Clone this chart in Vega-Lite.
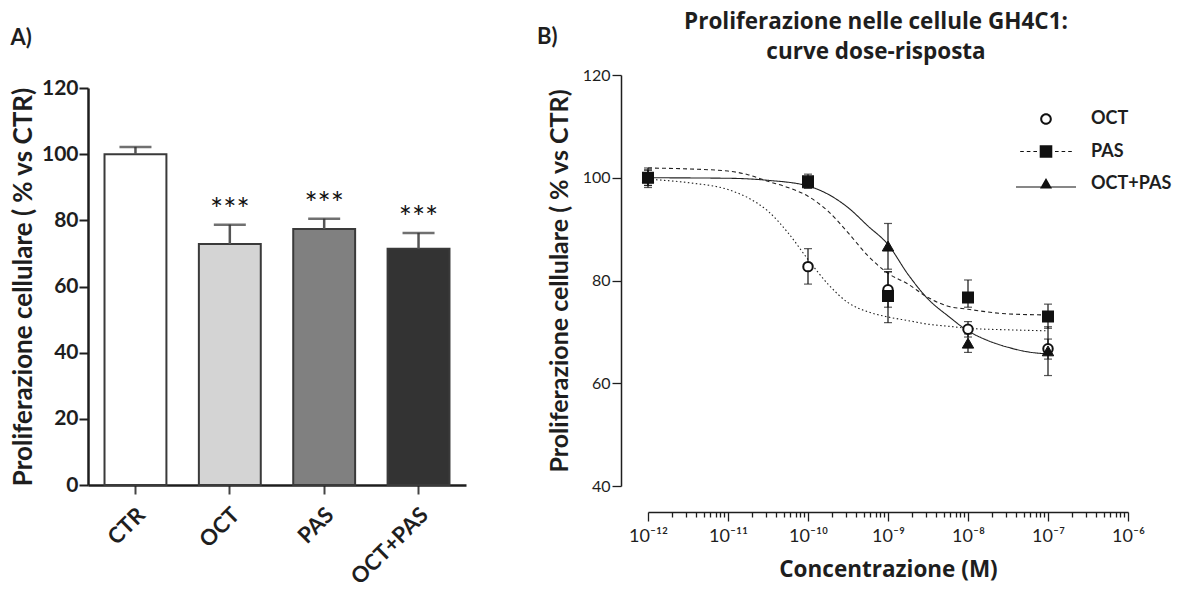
{
  "$schema": "https://vega.github.io/schema/vega-lite/v6.json",
  "padding": {"left": 10, "top": 10, "right": 0, "bottom": 0},
  "bounds": "flush",
  "spacing": 182,
  "resolve": {"scale": {"fill": "independent", "shape": "independent", "size": "independent", "strokeWidth": "independent", "strokeDash": "independent"}},
  "config": {
    "font": "Lato",
    "view": {"stroke": null},
    "axis": {"grid": false, "domainColor": "#1e1e1e", "tickColor": "#1e1e1e", "labelColor": "#1e1e1e", "titleColor": "#1e1e1e"},
    "title": {"color": "#1e1e1e"},
    "legend": {"labelColor": "#1e1e1e"}
  },
  "title": {"text": "B)", "anchor": "start", "frame": "group", "dx": 449, "offset": -38, "fontSize": 22, "fontWeight": "bold"},
  "datasets": {
    "bars": [
      {"group": "CTR", "mean": 100, "upper": 102.2, "sig": ""},
      {"group": "OCT", "mean": 72.85, "upper": 78.7, "sig": "***"},
      {"group": "PAS", "mean": 77.4, "upper": 80.5, "sig": "***"},
      {"group": "OCT+PAS", "mean": 71.4, "upper": 76.2, "sig": "***"}
    ],
    "points": [
      {"series": "OCT", "conc": 1e-12, "val": 100, "lo": 98.5, "hi": 101.5},
      {"series": "OCT", "conc": 1e-10, "val": 82.7, "lo": 79.3, "hi": 86.2},
      {"series": "OCT", "conc": 1e-9, "val": 78.2, "lo": 74.8, "hi": 81.7},
      {"series": "OCT", "conc": 1e-8, "val": 70.5, "lo": 69.0, "hi": 72.0},
      {"series": "OCT", "conc": 1e-7, "val": 66.7, "lo": 64.7, "hi": 68.6},
      {"series": "OCT+PAS", "conc": 1e-12, "val": 100, "lo": 98.5, "hi": 101.5},
      {"series": "OCT+PAS", "conc": 1e-10, "val": 99.0, "lo": 98.0, "hi": 100.0},
      {"series": "OCT+PAS", "conc": 1e-9, "val": 86.7, "lo": 82.2, "hi": 91.1},
      {"series": "OCT+PAS", "conc": 1e-8, "val": 67.8, "lo": 66.0, "hi": 69.6},
      {"series": "OCT+PAS", "conc": 1e-7, "val": 66.3, "lo": 61.5, "hi": 71.0},
      {"series": "PAS", "conc": 1e-12, "val": 100, "lo": 98.1, "hi": 101.9},
      {"series": "PAS", "conc": 1e-10, "val": 99.3, "lo": 98.0, "hi": 100.7},
      {"series": "PAS", "conc": 1e-9, "val": 77.0, "lo": 71.8, "hi": 81.7},
      {"series": "PAS", "conc": 1e-8, "val": 76.7, "lo": 74.8, "hi": 80.1},
      {"series": "PAS", "conc": 1e-7, "val": 73.0, "lo": 70.7, "hi": 75.4}
    ],
    "curves": [
      {"series": "OCT", "conc": 1e-12, "val": 99.7},
      {"series": "OCT", "conc": 3.35e-12, "val": 99.0},
      {"series": "OCT", "conc": 1e-11, "val": 97.7},
      {"series": "OCT", "conc": 1.778e-11, "val": 96.1},
      {"series": "OCT", "conc": 3.162e-11, "val": 93.5},
      {"series": "OCT", "conc": 5.623e-11, "val": 89.3},
      {"series": "OCT", "conc": 1e-10, "val": 84.1},
      {"series": "OCT", "conc": 1.778e-10, "val": 79.3},
      {"series": "OCT", "conc": 3.162e-10, "val": 75.7},
      {"series": "OCT", "conc": 5.623e-10, "val": 73.9},
      {"series": "OCT", "conc": 1e-9, "val": 72.9},
      {"series": "OCT", "conc": 1.778e-9, "val": 72.2},
      {"series": "OCT", "conc": 3.162e-9, "val": 71.5},
      {"series": "OCT", "conc": 5.623e-9, "val": 71.1},
      {"series": "OCT", "conc": 1e-8, "val": 70.7},
      {"series": "OCT", "conc": 3.162e-8, "val": 70.4},
      {"series": "OCT", "conc": 1e-7, "val": 70.2},
      {"series": "PAS", "conc": 1e-12, "val": 101.9},
      {"series": "PAS", "conc": 3.35e-12, "val": 101.7},
      {"series": "PAS", "conc": 1e-11, "val": 101.3},
      {"series": "PAS", "conc": 1.778e-11, "val": 100.6},
      {"series": "PAS", "conc": 3.162e-11, "val": 99.3},
      {"series": "PAS", "conc": 5.623e-11, "val": 98.1},
      {"series": "PAS", "conc": 1e-10, "val": 96.4},
      {"series": "PAS", "conc": 1.778e-10, "val": 93.5},
      {"series": "PAS", "conc": 3.162e-10, "val": 89.3},
      {"series": "PAS", "conc": 5.623e-10, "val": 84.8},
      {"series": "PAS", "conc": 1e-9, "val": 81.4},
      {"series": "PAS", "conc": 1.778e-9, "val": 79.3},
      {"series": "PAS", "conc": 3.162e-9, "val": 76.7},
      {"series": "PAS", "conc": 5.623e-9, "val": 75.0},
      {"series": "PAS", "conc": 1e-8, "val": 74.4},
      {"series": "PAS", "conc": 3.162e-8, "val": 73.5},
      {"series": "PAS", "conc": 1e-7, "val": 73.3},
      {"series": "OCT+PAS", "conc": 1e-12, "val": 100.0},
      {"series": "OCT+PAS", "conc": 1e-11, "val": 99.9},
      {"series": "OCT+PAS", "conc": 3.162e-11, "val": 99.5},
      {"series": "OCT+PAS", "conc": 1e-10, "val": 98.4},
      {"series": "OCT+PAS", "conc": 1.778e-10, "val": 96.8},
      {"series": "OCT+PAS", "conc": 3.162e-10, "val": 94.2},
      {"series": "OCT+PAS", "conc": 5.623e-10, "val": 90.6},
      {"series": "OCT+PAS", "conc": 1e-9, "val": 87.0},
      {"series": "OCT+PAS", "conc": 1.778e-9, "val": 81.2},
      {"series": "OCT+PAS", "conc": 3.162e-9, "val": 76.4},
      {"series": "OCT+PAS", "conc": 5.623e-9, "val": 73.1},
      {"series": "OCT+PAS", "conc": 1e-8, "val": 70.2},
      {"series": "OCT+PAS", "conc": 1.778e-8, "val": 68.3},
      {"series": "OCT+PAS", "conc": 3.162e-8, "val": 67.0},
      {"series": "OCT+PAS", "conc": 5.623e-8, "val": 66.1},
      {"series": "OCT+PAS", "conc": 1e-7, "val": 65.7}
    ]
  },
  "hconcat": [
    {
      "width": 378,
      "height": 410,
      "title": {"text": "A)", "anchor": "start", "frame": "bounds", "fontSize": 22, "fontWeight": "bold", "offset": 25},
      "data": {"name": "bars"},
      "layer": [
        {
          "mark": {"type": "bar", "stroke": "#3a3a3a", "strokeWidth": 2},
          "encoding": {
            "x": {"field": "group", "type": "nominal", "sort": null,
              "scale": {"paddingInner": 0.344, "paddingOuter": 0.175},
              "axis": {"title": null, "labelAngle": -45, "labelAlign": "right", "labelBaseline": "middle", "labelFontSize": 22, "labelFontWeight": "bold", "labelPadding": 17, "labelOffset": 6, "tickSize": 9, "tickWidth": 2, "tickColor": "#444", "domainWidth": 2.5}},
            "y": {"field": "mean", "type": "quantitative",
              "scale": {"domain": [0, 120], "range": [410, 13], "nice": false},
              "axis": {"values": [0, 20, 40, 60, 80, 100, 120], "title": "Proliferazione cellulare ( % vs CTR)", "titleFontSize": 26, "titleFontWeight": "bold", "titlePadding": 5, "labelFontSize": 21, "labelFontWeight": "bold", "labelPadding": 1, "tickSize": 9, "tickWidth": 2, "domainWidth": 2.5}},
            "fill": {"field": "group", "type": "nominal", "scale": {"domain": ["CTR", "OCT", "PAS", "OCT+PAS"], "range": ["#ffffff", "#d4d4d4", "#808080", "#333333"]}, "legend": null}
          }
        },
        {
          "mark": {"type": "rule", "stroke": "#555555", "strokeWidth": 2.5},
          "encoding": {
            "x": {"field": "group", "type": "nominal", "sort": null},
            "y": {"field": "mean", "type": "quantitative"},
            "y2": {"field": "upper"}
          }
        },
        {
          "mark": {"type": "tick", "orient": "horizontal", "size": 32, "thickness": 2.5, "color": "#333333"},
          "encoding": {
            "x": {"field": "group", "type": "nominal", "sort": null},
            "y": {"field": "upper", "type": "quantitative"}
          }
        },
        {
          "mark": {"type": "text", "fontSize": 31, "dy": -5, "baseline": "alphabetic", "color": "#111111"},
          "encoding": {
            "x": {"field": "group", "type": "nominal", "sort": null},
            "y": {"field": "upper", "type": "quantitative"},
            "text": {"field": "sig"}
          }
        }
      ]
    },
    {
      "width": 480,
      "height": 411,
      "title": {"text": ["Proliferazione nelle cellule GH4C1:", "curve dose-risposta"], "anchor": "middle", "frame": "group", "dx": -12, "font": "Open Sans", "fontSize": 22.5, "fontWeight": "bold", "lineHeight": 30, "offset": 4},
      "resolve": {"scale": {"shape": "independent"}},
      "layer": [
        {
          "data": {"name": "curves"},
          "mark": {"type": "line", "interpolate": "monotone", "color": "#222222", "strokeWidth": 1.1},
          "encoding": {
            "x": {"field": "conc", "type": "quantitative",
              "scale": {"type": "log", "domain": [1e-12, 1e-6], "nice": false},
              "axis": {"offset": 26,
                "values": [1e-12, 2e-12, 3e-12, 4e-12, 5e-12, 6e-12, 7e-12, 8e-12, 9e-12, 1e-11, 2e-11, 3e-11, 4e-11, 5e-11, 6e-11, 7e-11, 8e-11, 9e-11, 1e-10, 2e-10, 3e-10, 4e-10, 5e-10, 6e-10, 7e-10, 8e-10, 9e-10, 1e-9, 2e-9, 3e-9, 4e-9, 5e-9, 6e-9, 7e-9, 8e-9, 9e-9, 1e-8, 2e-8, 3e-8, 4e-8, 5e-8, 6e-8, 7e-8, 8e-8, 9e-8, 1e-7, 2e-7, 3e-7, 4e-7, 5e-7, 6e-7, 7e-7, 8e-7, 9e-7, 1e-6],
                "labelExpr": "abs(log(datum.value)/LN10 - round(log(datum.value)/LN10)) > 0.01 ? '' : round(log(datum.value)/LN10) == -12 ? '10⁻¹²' : round(log(datum.value)/LN10) == -11 ? '10⁻¹¹' : round(log(datum.value)/LN10) == -10 ? '10⁻¹⁰' : round(log(datum.value)/LN10) == -9 ? '10⁻⁹' : round(log(datum.value)/LN10) == -8 ? '10⁻⁸' : round(log(datum.value)/LN10) == -7 ? '10⁻⁷' : '10⁻⁶'",
                "labelFlush": false, "labelOverlap": false, "labelFontSize": 18, "labelPadding": 6,
                "tickSize": {"condition": {"test": "abs(log(datum.value)/LN10 - round(log(datum.value)/LN10)) < 0.01", "value": 9}, "value": 5},
                "tickWidth": 1.3, "domainWidth": 1.5,
                "title": "Concentrazione (M)", "titleFont": "Open Sans", "titleFontSize": 22.5, "titleFontWeight": "bold", "titlePadding": 13}},
            "y": {"field": "val", "type": "quantitative",
              "scale": {"domain": [40, 120], "nice": false, "zero": false},
              "axis": {"offset": 27, "values": [40, 60, 80, 100, 120], "tickSize": 9, "tickWidth": 1.3, "domainWidth": 1.5, "labelFontSize": 16, "labelPadding": 2,
                "title": "Proliferazione cellulare ( % vs CTR)", "titleFontSize": 25, "titleFontWeight": "bold", "titlePadding": 10}},
            "detail": {"field": "series"},
            "strokeDash": {"field": "series", "type": "nominal", "scale": {"domain": ["OCT", "PAS", "OCT+PAS"], "range": [[1.5, 2.5], [4, 3], [1, 0]]}, "legend": null}
          }
        },
        {
          "data": {"name": "points"},
          "mark": {"type": "rule", "color": "#111111", "strokeWidth": 1.2},
          "encoding": {
            "x": {"field": "conc", "type": "quantitative"},
            "y": {"field": "lo", "type": "quantitative"},
            "y2": {"field": "hi"}
          }
        },
        {
          "data": {"name": "points"},
          "mark": {"type": "tick", "orient": "horizontal", "size": 8, "thickness": 1.2, "color": "#111111"},
          "encoding": {
            "x": {"field": "conc", "type": "quantitative"},
            "y": {"field": "lo", "type": "quantitative"}
          }
        },
        {
          "data": {"name": "points"},
          "mark": {"type": "tick", "orient": "horizontal", "size": 8, "thickness": 1.2, "color": "#111111"},
          "encoding": {
            "x": {"field": "conc", "type": "quantitative"},
            "y": {"field": "hi", "type": "quantitative"}
          }
        },
        {
          "data": {"name": "points"},
          "mark": {"type": "point", "filled": true, "opacity": 1, "stroke": "#111111"},
          "encoding": {
            "x": {"field": "conc", "type": "quantitative"},
            "y": {"field": "val", "type": "quantitative"},
            "shape": {"field": "series", "type": "nominal", "scale": {"domain": ["OCT", "PAS", "OCT+PAS"], "range": ["circle", "square", "triangle-up"]}, "legend": null},
            "fill": {"field": "series", "type": "nominal", "scale": {"domain": ["OCT", "PAS", "OCT+PAS"], "range": ["#ffffff", "#111111", "#111111"]}, "legend": null},
            "size": {"field": "series", "type": "nominal", "scale": {"domain": ["OCT", "PAS", "OCT+PAS"], "range": [90, 130, 150]}, "legend": null},
            "strokeWidth": {"field": "series", "type": "nominal", "scale": {"domain": ["OCT", "PAS", "OCT+PAS"], "range": [2, 1, 1]}, "legend": null}
          }
        },
        {
          "data": {"name": "points"},
          "mark": {"type": "point", "size": 0, "opacity": 0, "filled": true, "color": "#111111", "stroke": "#111111", "strokeWidth": 1},
          "encoding": {
            "x": {"field": "conc", "type": "quantitative"},
            "y": {"field": "val", "type": "quantitative"},
            "shape": {"field": "series", "type": "nominal",
              "scale": {"domain": ["OCT", "PAS", "OCT+PAS"], "range": [
                "M0.97,0A0.97,0.97,0,1,1,-0.97,0A0.97,0.97,0,1,1,0.97,0ZM0.64,0A0.64,0.64,0,1,0,-0.64,0A0.64,0.64,0,1,0,0.64,0Z",
                "M-4.3,-0.09H-3.7V0.09H-4.3ZM-3.2,-0.09H-2.6V0.09H-3.2ZM-2.1,-0.09H-1.5V0.09H-2.1ZM1.5,-0.09H2.1V0.09H1.5ZM2.6,-0.09H3.2V0.09H2.6ZM3.7,-0.09H4.3V0.09H3.7ZM-1.05,-1.05H1.05V1.05H-1.05Z",
                "M-5,0.42H5V0.58H-5ZM0,-1L1,0.75L-1,0.75Z"]},
              "legend": {"orient": "none", "legendX": 389, "legendY": 35, "title": null, "padding": 0,
                "symbolSize": 144, "symbolFillColor": "#111111", "symbolStrokeColor": "#111111", "symbolStrokeWidth": 1, "symbolOpacity": 1,
                "labelFontSize": 18, "labelFontWeight": "bold", "labelOffset": 36, "rowPadding": 14.5}}
          }
        }
      ]
    }
  ]
}
